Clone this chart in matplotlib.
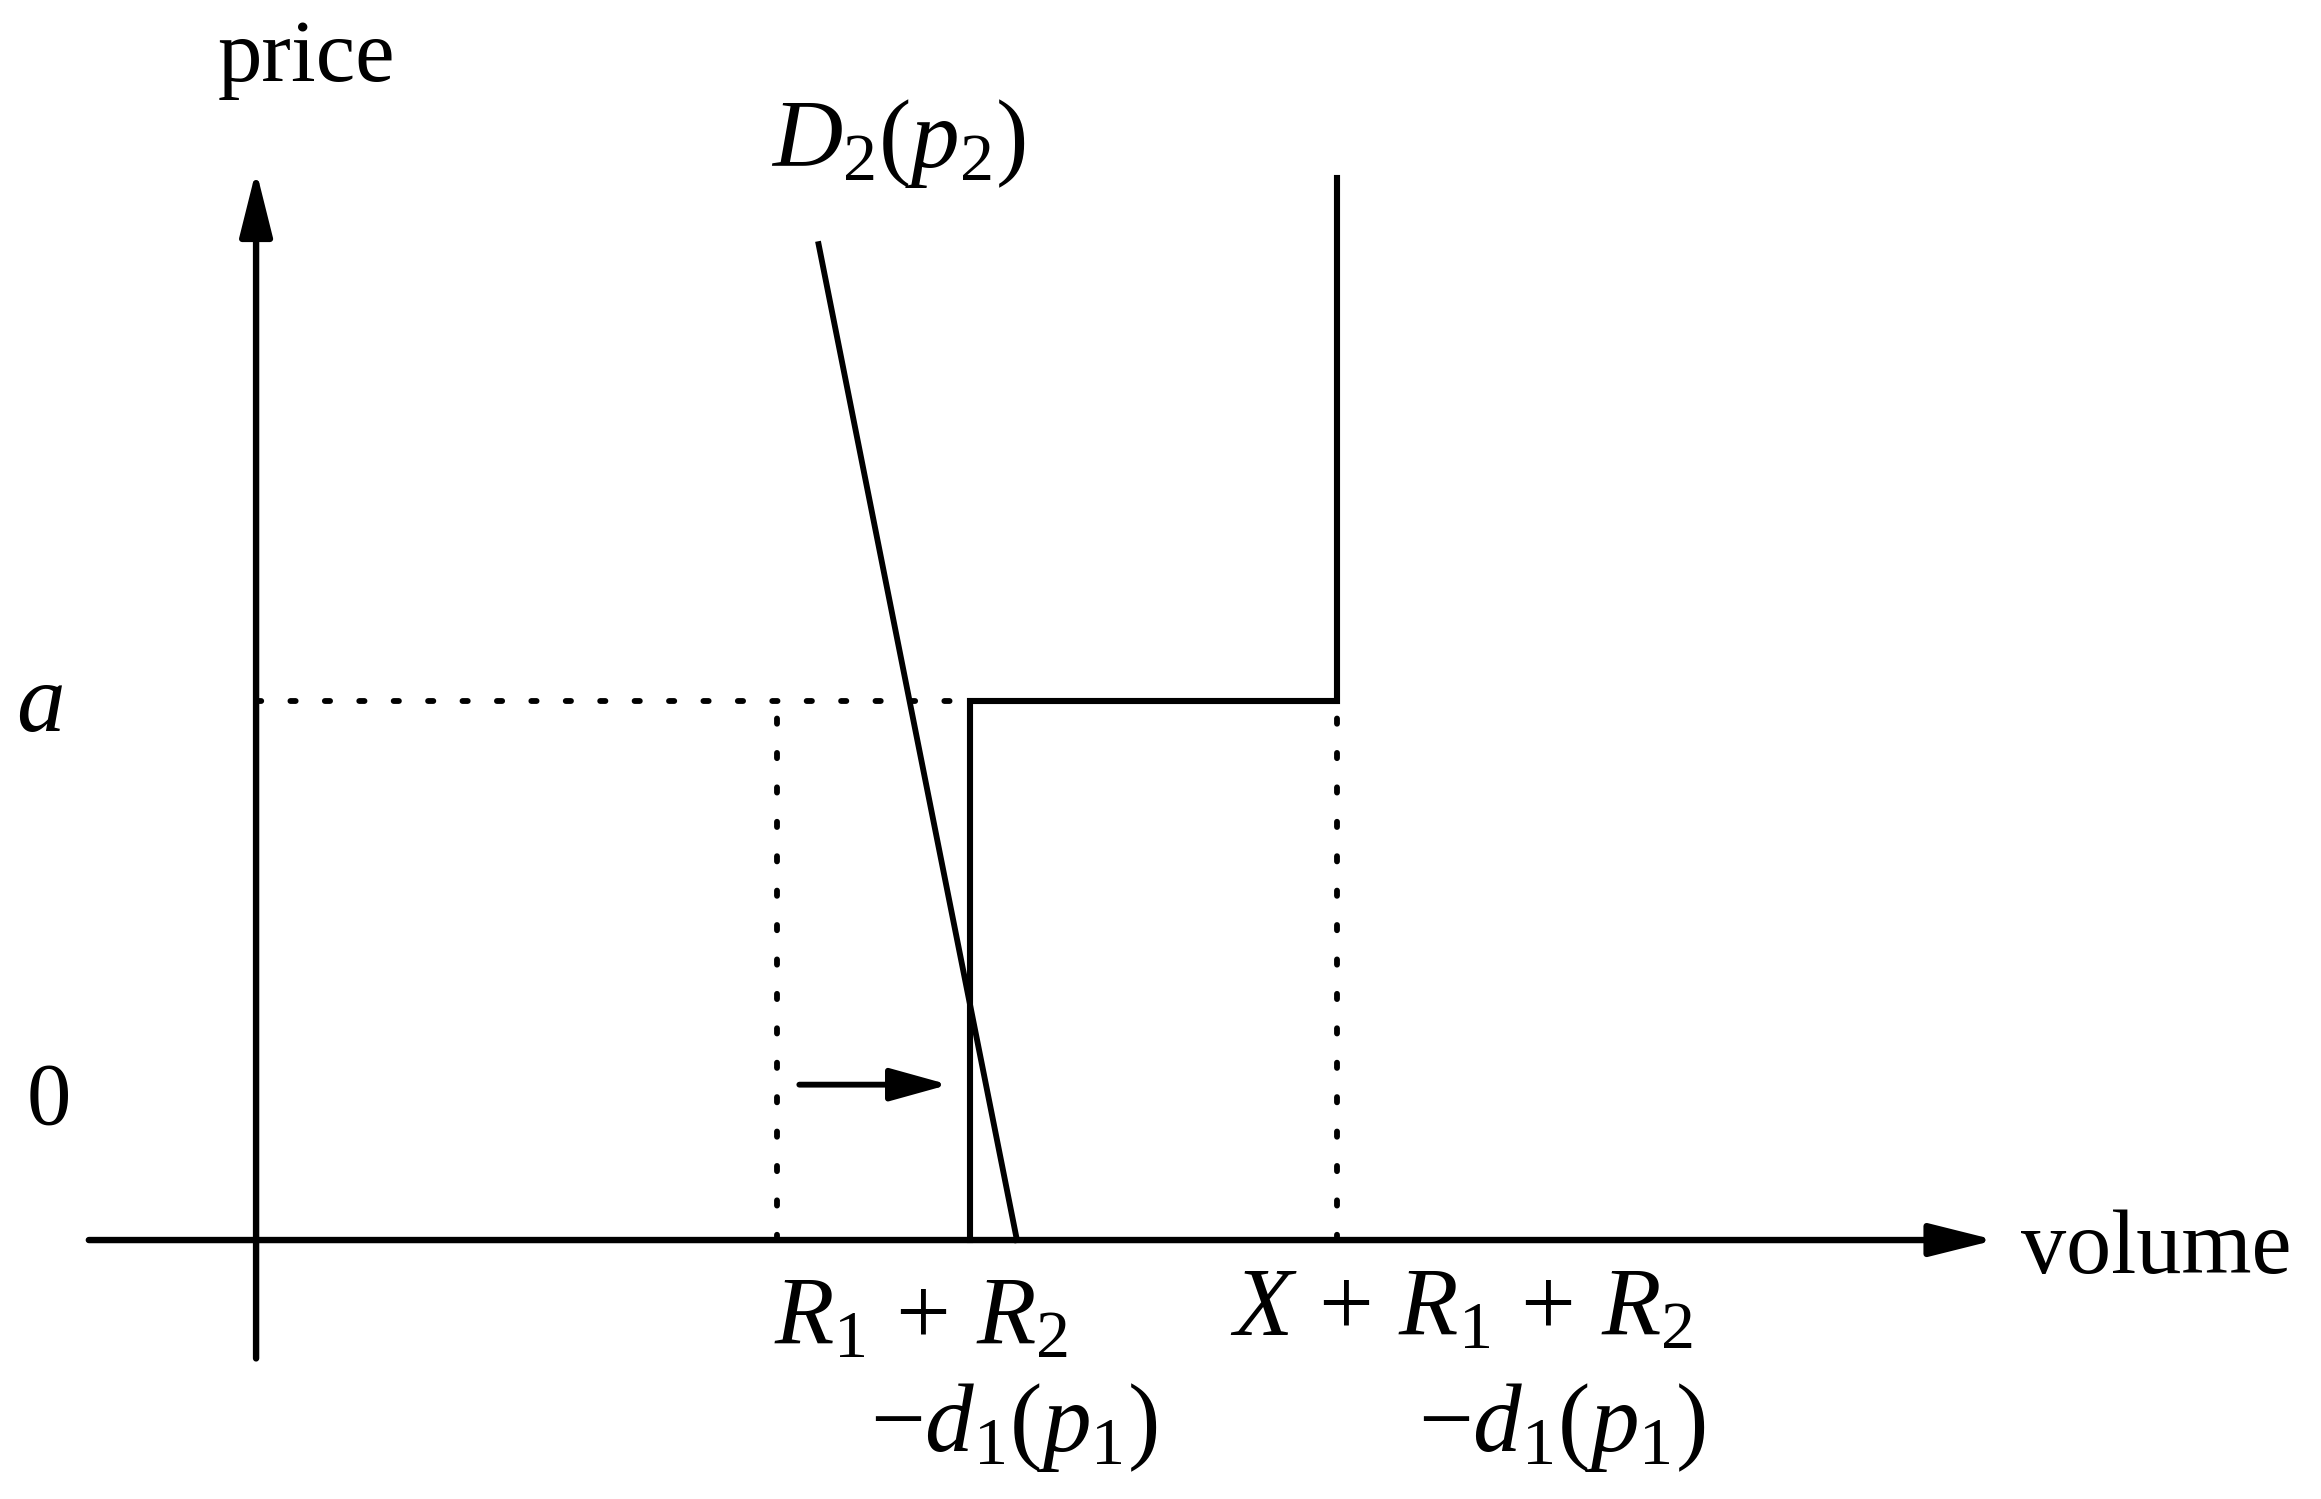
import matplotlib
matplotlib.use("Agg")
import matplotlib.pyplot as plt

plt.rcParams["font.family"] = ["Liberation Serif", "DejaVu Serif"]
plt.rcParams["mathtext.fontset"] = "custom"
plt.rcParams["mathtext.rm"] = "Liberation Serif"
plt.rcParams["mathtext.it"] = "Liberation Serif:italic"

# volume / price levels of the sketch (arbitrary units, origin at the axes crossing)
vol_axis = [-1.13, 11.75]
price_axis = [-0.80, 7.23]
a_level = 3.64
supply_top = 7.18
old_kink = 3.52          # R1 + R2 - d1(p1) before the shift
new_kink = 4.82          # shifted kink
cap_volume = 7.30        # X + R1 + R2 - d1(p1)
demand_vol = [3.80, 5.14]
demand_price = [6.73, 0.0]
shift_vol = [3.67, 4.68]
shift_price = 1.05

fig = plt.figure(figsize=(23.21, 14.99), dpi=100)
ax = fig.add_axes([0, 0, 1, 1])
ax.set_xlim(-1.73, 13.95)
ax.set_ylim(-1.75, 8.38)
ax.axis("off")

arrow_kw = dict(arrowstyle="-|>,head_length=2.0,head_width=0.5", color="black",
                lw=4.6, shrinkA=0, shrinkB=0, mutation_scale=20)
ax.annotate("", xy=(vol_axis[1], 0), xytext=(vol_axis[0], 0), arrowprops=arrow_kw)
ax.annotate("", xy=(0, price_axis[1]), xytext=(0, price_axis[0]), arrowprops=arrow_kw)

dot = dict(color="black", lw=4.2, linestyle=(0, (0.9, 5.0)), dash_capstyle="round")
ax.plot([0, new_kink], [a_level, a_level], **dot)
ax.plot([old_kink, old_kink], [0, a_level], **dot)
ax.plot([cap_volume, cap_volume], [0, a_level], **dot)

# shifted supply step
ax.plot([new_kink, new_kink, cap_volume, cap_volume],
        [0, a_level, a_level, supply_top], color="black", lw=4.4,
        solid_joinstyle="miter")

# demand
ax.plot(demand_vol, demand_price, color="black", lw=4.2)

# shift arrow
ax.annotate("", xy=(shift_vol[1], shift_price), xytext=(shift_vol[0], shift_price),
            arrowprops=dict(arrowstyle="-|>,head_length=1.8,head_width=0.5",
                            color="black", lw=4.2, shrinkA=0, shrinkB=0,
                            mutation_scale=20))

fs = 64
mfs = 70
ax.text(0.34, 7.98, "price", fontsize=fs, ha="center", va="center")
ax.text(4.34, 7.41, r"$D_2(p_2)$", fontsize=mfs, ha="center", va="center")
ax.text(-1.46, 3.60, r"$a$", fontsize=mfs, ha="center", va="center")
ax.text(-1.40, 0.93, "0", fontsize=fs, ha="center", va="center")
ax.text(11.92, -0.07, "volume", fontsize=65, ha="left", va="center")
ax.text(4.49, -0.55, r"$R_1\,+\,R_2$", fontsize=mfs, ha="center", va="center")
ax.text(5.12, -1.27, r"$-d_1(p_1)$", fontsize=mfs, ha="center", va="center")
ax.text(8.14, -0.49, r"$X\,+\,R_1\,+\,R_2$", fontsize=mfs, ha="center", va="center")
ax.text(8.82, -1.27, r"$-d_1(p_1)$", fontsize=mfs, ha="center", va="center")

fig.savefig("out.png", dpi=100)
